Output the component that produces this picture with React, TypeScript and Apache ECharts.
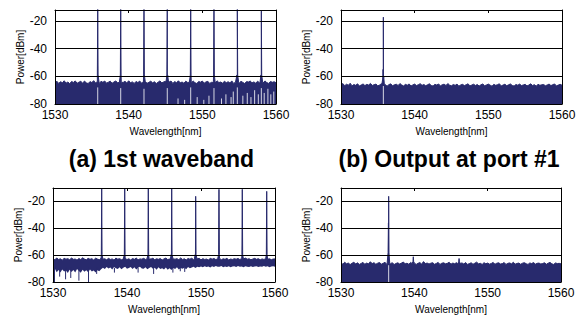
import React, { useEffect, useRef } from "react";
import * as echarts from "echarts";

// ---------- data ----------
const wlStart = 1530;
const wlStep = 0.25;

// Panel (a) top: input spectrum — upper envelope of the noise floor, every 0.25 nm
const aTopNoise = [
  -64.8, -63.5, -65.1, -63.9, -64.6, -63.2, -64.9, -64.1, -65.3, -63.7,
  -64.4, -63.3, -65.0, -64.2, -63.6, -64.9, -63.4, -64.7, -65.2, -63.8,
  -64.5, -63.1, -64.8, -64.0, -65.1, -63.6, -64.3, -63.4, -64.9, -64.2,
  -63.5, -65.0, -64.1, -63.3, -64.7, -63.9, -65.2, -64.4, -63.6, -64.8,
  -63.2, -64.6, -64.0, -65.1, -63.7, -64.5, -63.4, -64.9, -64.1, -63.8,
  -65.0, -64.3, -63.5, -64.7, -63.9, -65.2, -64.2, -63.3, -64.8, -64.0,
  -63.6, -64.9, -64.3, -63.4, -65.1, -63.8, -64.6, -63.2, -64.7, -64.1,
  -65.0, -63.5, -64.4, -63.9, -64.8, -63.3, -64.6, -65.2, -63.7, -64.2,
  -63.4, -64.9, -64.0, -63.6, -65.1, -64.3, -63.8, -64.7, -63.2, -64.5,
  -64.1, -65.0, -63.5, -64.6, -63.9, -64.8, -63.3, -65.1, -64.2, -63.7,
  -64.9, -63.6, -64.4, -65.2, -63.8, -64.1, -63.4, -64.7, -64.0, -65.0,
  -63.5, -64.6, -63.9, -64.8, -63.3, -64.5, -65.1, -63.7, -64.3, -63.9,
  -64.6,
];
const aTopFloor = -64.3;
const aTopPeakWl = [1535.8, 1538.92, 1542.08, 1545.24, 1548.42, 1551.58, 1554.75, 1558.01];
const aTopPeakTop = [-11, -11, -11, -11, -11, -11, -11, -12.8];
const aTopPeakBase = [-59, -59, -59, -59, -59, -59, -59, -59];
const aTopCutWl = [
  1535.8, 1538.92, 1542.08, 1545.24, 1548.42, 1551.58, 1554.75, 1558.01,
  1546.7, 1547.6, 1549.3, 1550.2, 1550.9, 1552.6, 1553.2, 1553.9, 1554.2,
  1555.5, 1556.1, 1556.6, 1557.1, 1557.6, 1558.4, 1558.9, 1559.3, 1559.7,
];
const aTopCutTop = [
  -68, -68.5, -69, -68.5, -68, -68.5, -68, -68.5,
  -76, -77, -75, -77, -74, -76, -73, -75, -71,
  -74, -72, -75, -70, -73, -72, -69, -73, -71,
];

// Panel (b) top: output at port #1
const bTopNoise = [
  -66.1, -65.2, -66.8, -65.7, -66.4, -65.0, -66.9, -65.9, -66.5, -65.4,
  -67.0, -66.2, -65.5, -66.7, -65.8, -66.3, -65.1, -66.6, -66.0, -65.6,
  -66.9, -66.2, -65.3, -66.5, -65.9, -67.1, -66.0, -65.4, -66.8, -66.1,
  -65.7, -66.6, -65.2, -66.3, -66.9, -65.8, -66.4, -65.5, -67.0, -66.2,
  -65.6, -66.7, -66.0, -65.3, -66.5, -65.9, -66.8, -66.1, -65.4, -66.6,
  -67.0, -65.8, -66.3, -65.5, -66.9, -66.0, -65.7, -66.6, -65.2, -66.4,
  -66.8, -65.9, -66.5, -65.6, -67.1, -66.2, -65.8, -66.7, -66.0, -65.4,
  -66.9, -66.3, -65.7, -66.6, -65.9, -67.0, -66.1, -65.5, -66.8, -66.2,
  -65.6, -66.4, -67.1, -65.8, -66.5, -66.0, -65.4, -66.9, -66.3, -65.7,
  -66.8, -66.1, -65.5, -66.6, -67.0, -65.9, -66.4, -65.6, -66.7, -66.2,
  -65.8, -66.9, -66.3, -65.4, -66.6, -66.0, -67.1, -65.7, -66.5, -66.1,
  -65.9, -66.8, -66.2, -65.6, -66.7, -66.0, -65.5, -66.9, -66.3, -65.8,
  -66.4,
];
const bTopFloor = -66.2;
const bTopPeakWl = [1535.71, 1535.75];
const bTopPeakTop = [-55, -17.2];
const bTopPeakBase = [-62, -60];
const bTopCutWl = [1535.75];
const bTopCutTop = [-67];

// Panel (a) bottom: noisy band (upper and lower edges)
const aBotNoise = [
  -62.4, -63.5, -62.1, -63.2, -62.7, -63.8, -62.3, -63.0, -62.6, -63.4,
  -62.2, -63.1, -62.9, -63.7, -62.5, -63.3, -62.0, -62.9, -63.5, -62.4,
  -63.1, -62.6, -63.6, -62.3, -62.9, -63.4, -62.1, -63.0, -62.7, -63.5,
  -62.4, -63.2, -62.8, -63.7, -62.2, -63.0, -62.6, -63.4, -62.9, -62.3,
  -63.3, -62.7, -63.6, -62.5, -63.1, -62.2, -63.5, -62.8, -63.0, -62.4,
  -63.2, -62.6, -63.8, -62.9, -62.3, -63.4, -62.7, -63.1, -62.5, -63.6,
  -62.8, -62.2, -63.3, -62.9, -63.5, -62.4, -63.0, -62.6, -63.4, -62.1,
  -63.2, -62.7, -63.6, -62.5, -63.0, -62.3, -63.4, -62.8, -63.1, -62.4,
  -63.5, -62.6, -63.2, -62.9, -63.7, -62.3, -63.0, -62.5, -63.3, -62.8,
  -62.2, -63.4, -62.7, -63.1, -62.4, -63.6, -62.9, -63.2, -62.6, -63.0,
  -62.5, -63.3, -62.8, -63.5, -62.2, -63.0, -62.7, -63.4, -62.9, -62.4,
  -63.1, -62.6, -63.5, -62.8, -63.2, -62.3, -63.0, -62.7, -63.4, -62.9,
  -62.8,
];
const aBotLower = [
  -71.6, -70.2, -72.8, -71.1, -73.0, -70.6, -72.2, -71.4, -73.3, -70.8,
  -72.5, -71.0, -72.9, -70.4, -71.8, -73.1, -70.9, -72.4, -71.3, -72.7,
  -70.7, -72.1, -71.5, -73.0, -71.2, -72.0, -70.5, -69.3, -70.4, -68.9,
  -70.0, -69.2, -70.6, -68.8, -69.7, -70.3, -69.0, -70.5, -69.4, -68.7,
  -70.2, -69.5, -68.9, -70.4, -69.1, -70.7, -69.3, -68.6, -69.9, -70.1,
  -69.0, -70.5, -69.6, -68.8, -70.2, -69.4, -70.8, -69.1, -70.3, -69.7,
  -70.6, -69.2, -70.9, -69.8, -71.0, -69.5, -70.4, -69.0, -70.7, -69.6,
  -70.1, -69.3, -70.5, -68.9, -69.8, -69.2, -68.7, -69.5, -68.6, -69.1,
  -68.4, -69.0, -68.2, -68.8, -68.5, -69.2, -68.3, -68.9, -68.1, -68.7,
  -68.6, -68.0, -69.1, -68.4, -68.8, -68.2, -69.0, -68.5, -68.3, -68.9,
  -68.1, -68.7, -68.4, -69.0, -68.2, -68.6, -68.9, -68.3, -68.8, -68.5,
  -68.2, -68.9, -68.4, -68.7, -68.0, -68.6, -68.3, -69.0, -68.5, -68.2,
  -68.6,
];
const aBotFloor = -62.8;
const aBotPeakWl = [1536.58, 1539.69, 1542.88, 1546.04, 1549.28, 1552.43, 1555.58, 1558.88];
const aBotPeakTop = [-10, -10, -10, -10, -16.2, -11, -11, -12.5];
const aBotPeakBase = [-59.5, -59.5, -59.5, -59.5, -59.5, -59.5, -59.5, -59.5];
const aBotDipWl = [1530.2, 1530.9, 1531.7, 1532.4, 1533.5, 1534.8, 1535.9, 1538.3, 1541.5, 1543.6, 1546.2, 1547.2, 1547.8];
const aBotDipDepth = [-80, -76, -78, -77, -79, -80, -74, -73, -73, -74, -73, -72, -72.5];

// Panel (b) bottom
const bBotNoise = [
  -65.8, -66.7, -65.3, -66.4, -65.9, -67.0, -66.1, -65.2, -66.6, -65.7,
  -66.9, -66.2, -65.4, -66.8, -65.9, -66.5, -64.9, -66.3, -65.6, -66.8,
  -66.0, -65.5, -66.7, -66.1, -65.3, -66.9, -65.8, -66.4, -65.6, -67.0,
  -66.2, -65.7, -66.6, -65.9, -65.1, -66.5, -66.0, -66.8, -65.4, -66.3,
  -65.8, -66.9, -66.1, -65.5, -66.7, -64.8, -66.3, -65.9, -66.6, -66.0,
  -65.6, -66.8, -66.2, -65.4, -66.9, -66.0, -65.7, -66.5, -66.1, -65.3,
  -66.7, -65.9, -66.4, -65.6, -67.0, -66.2, -65.8, -66.6, -65.5, -66.9,
  -66.3, -65.7, -66.8, -66.0, -65.2, -66.5, -66.1, -66.9, -65.6, -66.4,
  -65.9, -66.7, -66.2, -65.4, -66.8, -66.0, -65.7, -66.6, -66.3, -65.5,
  -66.9, -66.1, -65.8, -66.5, -65.3, -66.7, -66.2, -65.9, -66.8, -66.0,
  -65.6, -66.4, -66.9, -65.8, -66.3, -65.5, -66.7, -66.1, -65.9, -66.6,
  -66.2, -65.7, -66.8, -66.0, -65.4, -66.5, -66.9, -65.8, -66.3, -66.1,
  -66.5,
];
const bBotFloor = -66.2;
const bBotPeakWl = [1536.47, 1536.5, 1539.86, 1546.1];
const bBotPeakTop = [-36, -16.2, -61.2, -62.5];
const bBotPeakBase = [-58, -58, -65, -65];
const bBotCutWl = [1536.5];
const bBotCutTop = [-67.5];

const xTicks = { min: 1530, max: 1560, interval: 10 };
const titles = ["(a) 1st waveband", "(b) Output at port #1"];

// ---------- helpers ----------
const navy = "#282a6d";
const ff = "Liberation Sans, Arial, sans-serif";

function buildTrace(noise: number[], floor: number, pw: number[], pt: number[], pb: number[]) {
  const pts: (number | string)[][] = noise.map((v, i) => [wlStart + i * wlStep, v]);
  pw.forEach((w, i) => {
    pts.push([w - 0.18, floor]);
    pts.push([w - 0.05, pb[i]]);
    pts.push([w, pt[i]]);
    pts.push([w + 0.05, pb[i]]);
    pts.push([w + 0.18, floor]);
  });
  pts.sort((a, b) => (a[0] as number) - (b[0] as number));
  return pts;
}
function buildEdge(vals: number[]) {
  return vals.map((v, i) => [wlStart + i * wlStep, v]);
}
function buildSegments(wl: number[], from: number, to: number[]) {
  const out: (number | string)[][] = [];
  wl.forEach((w, i) => {
    out.push([w, from], [w, to[i]], [w, "-"]);
  });
  return out;
}

const grids = [
  { left: 55, top: 10, width: 221, height: 94 },
  { left: 341, top: 10, width: 221, height: 94 },
  { left: 53, top: 188, width: 222, height: 94 },
  { left: 341, top: 188, width: 220, height: 94 },
];
const yMax = [-12, -12, -10, -10];

function bottomX(gi: number) {
  return {
    type: "value", gridIndex: gi, position: "bottom", ...xTicks, z: 10,
    axisLine: { show: true, onZero: false, lineStyle: { color: "#000", width: 1 } },
    axisTick: { show: false },
    axisLabel: { fontSize: 12, margin: 5, color: "#000", fontFamily: ff, formatter: (v: number) => String(v) },
    splitLine: { show: false },
    name: "Wavelength[nm]", nameLocation: "middle", nameGap: 22,
    nameTextStyle: { fontSize: 10, color: "#000", fontFamily: ff },
  };
}
function topX(gi: number) {
  return {
    type: "value", gridIndex: gi, position: "top", ...xTicks, z: 10,
    axisLine: { show: true, onZero: false, lineStyle: { color: "#000", width: 1 } },
    axisTick: { show: true, inside: true, length: 3, lineStyle: { color: "#000" } },
    axisLabel: { show: false },
    splitLine: { show: false },
  };
}
function leftY(gi: number) {
  return {
    type: "value", gridIndex: gi, position: "left", min: -80, max: yMax[gi], interval: 20, z: 10,
    axisLine: { show: true, onZero: false, lineStyle: { color: "#000", width: 1 } },
    axisTick: { show: false },
    axisLabel: {
      fontSize: 12, margin: 8, color: "#000", fontFamily: ff,
      formatter: (v: number) => (v % 20 === 0 ? String(v) : ""),
    },
    splitLine: { show: true, lineStyle: { color: "#000", width: 1 } },
    name: "Power[dBm]", nameLocation: "middle", nameRotate: 90, nameGap: 28,
    nameTextStyle: { fontSize: 10, color: "#000", fontFamily: ff },
  };
}
function rightY(gi: number) {
  return {
    type: "value", gridIndex: gi, position: "right", min: -80, max: yMax[gi], z: 10,
    axisLine: { show: true, onZero: false, lineStyle: { color: "#000", width: 1 } },
    axisTick: { show: false },
    axisLabel: { show: false },
    splitLine: { show: false },
  };
}

function traceSeries(gi: number, data: any[]) {
  return {
    type: "line", xAxisIndex: gi, yAxisIndex: gi, data, symbol: "none", showSymbol: false,
    silent: true, z: 2,
    lineStyle: { color: navy, width: 1 },
    areaStyle: { color: navy, opacity: 1, origin: "start" },
  };
}
function segSeries(gi: number, data: any[], color: string, width: number, z: number) {
  return {
    type: "line", xAxisIndex: gi, yAxisIndex: gi, data, symbol: "none", showSymbol: false,
    silent: true, z, connectNulls: false,
    lineStyle: { color, width },
  };
}

const option: any = {
  animation: false,
  backgroundColor: "#fff",
  grid: grids,
  xAxis: [0, 1, 2, 3].map(bottomX).concat([0, 1, 2, 3].map(topX) as any),
  yAxis: [0, 1, 2, 3].map(leftY).concat([0, 1, 2, 3].map(rightY) as any),
  series: [
    traceSeries(0, buildTrace(aTopNoise, aTopFloor, aTopPeakWl, aTopPeakTop, aTopPeakBase)),
    segSeries(0, buildSegments(aTopCutWl, -80, aTopCutTop), "rgba(255,255,255,0.9)", 0.9, 3),
    traceSeries(1, buildTrace(bTopNoise, bTopFloor, bTopPeakWl, bTopPeakTop, bTopPeakBase)),
    segSeries(1, buildSegments(bTopCutWl, -80, bTopCutTop), "rgba(255,255,255,0.9)", 0.9, 3),
    traceSeries(2, buildTrace(aBotNoise, aBotFloor, aBotPeakWl, aBotPeakTop, aBotPeakBase)),
    {
      type: "line", xAxisIndex: 2, yAxisIndex: 2, data: buildEdge(aBotLower), symbol: "none",
      showSymbol: false, silent: true, z: 3,
      lineStyle: { width: 0, color: "#fff" },
      areaStyle: { color: "#fff", opacity: 1, origin: "start" },
    },
    segSeries(2, buildSegments(aBotDipWl, -69.5, aBotDipDepth), navy, 1, 4),
    traceSeries(3, buildTrace(bBotNoise, bBotFloor, bBotPeakWl, bBotPeakTop, bBotPeakBase)),
    segSeries(3, buildSegments(bBotCutWl, -80, bBotCutTop), "rgba(255,255,255,0.9)", 0.9, 3),
  ],
  graphic: [
    {
      type: "text", x: 161.5, y: 159, z: 20,
      style: {
        text: titles[0], fill: "#000", fontSize: 23, fontWeight: "bold", fontFamily: ff,
        align: "center", verticalAlign: "middle", textAlign: "center", textVerticalAlign: "middle",
      },
    },
    {
      type: "text", x: 449, y: 159, z: 20,
      style: {
        text: titles[1], fill: "#000", fontSize: 23, fontWeight: "bold", fontFamily: ff,
        align: "center", verticalAlign: "middle", textAlign: "center", textVerticalAlign: "middle",
      },
    },
  ],
};

export default function App() {
  const ref = useRef<HTMLDivElement>(null);
  useEffect(() => {
    const chart = echarts.init(ref.current as HTMLDivElement, null, { renderer: "svg" });
    chart.setOption(option);
    return () => chart.dispose();
  }, []);
  return (
    <div
      ref={ref}
      style={{ position: "fixed", left: 0, top: 0, width: 587, height: 322, background: "#fff" }}
    />
  );
}
